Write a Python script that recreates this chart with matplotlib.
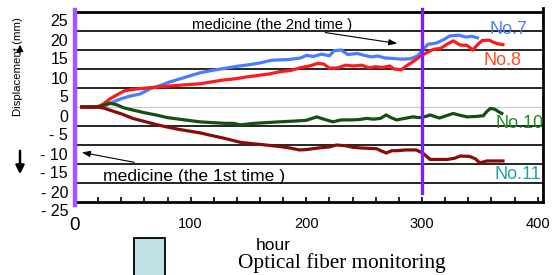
import matplotlib
matplotlib.use("Agg")
import matplotlib.pyplot as plt
from matplotlib.transforms import ScaledTranslation
from matplotlib.patches import Rectangle, FancyArrowPatch

plt.rcParams['font.family'] = ['Liberation Sans', 'DejaVu Sans']

# ---------------- data ----------------
x7 = [6, 19, 26, 32, 40, 48, 56, 65, 75, 82, 95, 108, 118, 128, 140, 150, 160, 170, 177, 185,
      195, 200, 206, 213, 220, 224, 230, 236, 244, 250, 256, 262, 268, 274, 282, 290, 296, 300,
      305, 312, 318, 324, 332, 338, 343, 348]
y7 = [0, 0, 0.3, 1.2, 2.2, 2.9, 3.4, 4.8, 5.8, 6.6, 7.8, 9.0, 9.6, 10.1, 10.7, 11.1, 11.6, 12.3, 12.4, 12.5,
      12.9, 13.6, 13.3, 13.9, 13.5, 14.8, 15.0, 13.8, 14.1, 13.6, 13.2, 13.4, 12.9, 12.8, 12.6, 12.7, 13.4, 14.8,
      16.5, 16.8, 17.6, 18.7, 18.9, 18.4, 18.6, 18.2]

x8 = [6, 19, 24, 30, 37, 43, 52, 62, 72, 85, 98, 108, 118, 128, 138, 148, 158, 168, 177, 186,
      196, 204, 210, 215, 220, 227, 234, 240, 248, 254, 260, 266, 272, 276, 282, 287, 292, 298,
      304, 310, 316, 321, 327, 333, 339, 344, 348, 352, 358, 362, 366, 370]
y8 = [0, 0, 0.7, 2.1, 3.3, 4.3, 4.7, 5.0, 5.3, 5.6, 5.9, 6.1, 6.6, 7.1, 7.4, 7.9, 8.3, 8.7, 9.3, 9.6,
      10.4, 10.9, 11.5, 11.3, 10.2, 10.3, 11.0, 10.8, 11.0, 10.3, 10.6, 10.4, 10.8, 10.0, 9.8, 10.9, 11.9, 13.2,
      14.3, 15.2, 15.4, 16.4, 17.4, 16.3, 16.2, 15.0, 16.4, 17.5, 17.6, 17.0, 16.6, 16.4]

x10 = [6, 19, 24, 30, 36, 42, 50, 60, 70, 80, 90, 100, 108, 118, 130, 137, 143, 155, 166, 177,
       190, 200, 209, 215, 223, 230, 238, 246, 252, 258, 264, 269, 274, 278, 285, 292, 298, 303,
       307, 315, 321, 327, 333, 339, 346, 353, 356, 359, 363, 366, 369]
y10 = [0, 0, 0.4, 1.0, 0.6, -0.2, -0.8, -1.5, -2.1, -2.8, -3.2, -3.6, -3.9, -4.1, -4.3, -4.3, -4.7, -4.3, -4.1, -3.9,
       -3.7, -3.5, -2.6, -3.2, -3.9, -3.4, -3.4, -3.3, -3.0, -3.2, -3.0, -2.1, -2.9, -3.4, -3.0, -2.6, -2.8, -2.5,
       -2.1, -2.9, -2.3, -1.7, -2.2, -2.6, -2.5, -2.3, -1.2, -0.4, -0.6, -1.2, -1.7]

x11 = [6, 19, 25, 32, 40, 50, 60, 70, 80, 90, 100, 108, 118, 130, 143, 155, 165, 177, 186, 194,
       200, 210, 220, 226, 234, 240, 248, 256, 261, 265, 269, 274, 278, 286, 295, 301, 304, 307,
       315, 322, 328, 333, 341, 346, 350, 356, 362, 370]
y11 = [0, 0, -0.3, -1.0, -1.8, -3.0, -3.8, -4.6, -5.3, -5.9, -6.4, -6.8, -7.5, -8.3, -9.3, -9.7, -10.0, -10.4, -10.8, -11.3,
       -11.2, -10.8, -10.5, -10.0, -10.2, -10.6, -10.8, -10.9, -11.0, -11.6, -12.1, -11.5, -11.5, -11.3, -11.3, -12.2, -13.0, -13.8,
       -13.8, -13.8, -13.5, -12.9, -13.0, -13.6, -14.7, -14.2, -14.2, -14.2]

series_names = ['No.7', 'No.8', 'No.10', 'No.11']
line_colors = ['#4a7cff', '#ff1a1a', '#145014', '#8a0b0b']
label_colors = ['#4a7cff', '#ff4a22', '#1f8f1f', '#1fa3a3']

ytick_vals = [25, 20, 15, 10, 5, 0, -5, -10, -15, -20, -25]
ytick_labels = ['25', '20', '15', '10', '5', '0', '- 5', '- 10', '- 15', '- 20', '- 25']
xtick_vals = [0, 100, 200, 300, 400]
xtick_labels = ['0', '100', '200', '300', '400']
medicine_times = [0, 300]

# ---------------- figure ----------------
fig = plt.figure(figsize=(5.56, 2.75), dpi=100)
ax = fig.add_axes([75 / 556, 73 / 275, 468 / 556, 193.8 / 275])
ax.set_xlim(0, 404.6)
ax.set_ylim(-25, 26)

# grid lines
for v in ytick_vals:
    if v == 0:
        ax.axhline(v, color='#c8c8c8', lw=0.8, zorder=1)
    elif v == 25:
        ax.axhline(v, color='black', lw=2.0, zorder=1)
    elif v == -25:
        pass
    else:
        ax.axhline(v, color='black', lw=1.2, zorder=1)

for s in ['top', 'left']:
    ax.spines[s].set_visible(False)
ax.spines['bottom'].set_linewidth(2.0)
ax.spines['right'].set_linewidth(2.0)

# data lines
for xs, ys, c in zip([x7, x8, x10, x11], [y7, y8, y10, y11], line_colors):
    ax.plot(xs, ys, color=c, lw=2.3, zorder=3, solid_joinstyle='miter')

# medicine vertical lines
ax.plot([medicine_times[0]] * 2, [-25.8, 25.5], color='#a055ff', lw=3.2, zorder=4, clip_on=False)
ax.plot([medicine_times[1]] * 2, [-22.6, 25.8], color='#7a1fff', lw=2.4, zorder=4, clip_on=False)

# series labels
label_pos = [(358.7, 20.3), (353.5, 12.3), (363.5, -4.3), (362.5, -17.8)]
for name, (lx, ly), c in zip(series_names, label_pos, label_colors):
    ax.text(lx, ly, name, color=c, fontsize=13, va='center', ha='left', zorder=5)

# annotations
ax.text(101, 21.6, 'medicine (the 2nd time )', fontsize=10.7, va='center', ha='left', zorder=5)
ax.annotate('', xy=(281, 16.6), xytext=(214, 19.7),
            arrowprops=dict(arrowstyle='-|>,head_length=0.5,head_width=0.18', color='black', lw=0.8))
ax.text(24, -18.4, 'medicine (the 1st time )', fontsize=12.6, va='center', ha='left', zorder=5)
ax.annotate('', xy=(3.5, -11.8), xytext=(53.6, -14.7),
            arrowprops=dict(arrowstyle='-|>,head_length=0.5,head_width=0.18', color='black', lw=0.8))

# ticks
ax.set_xticks(xtick_vals)
ax.set_xticklabels(xtick_labels)
ax.set_xticks(range(0, 401, 20), minor=True)
ax.tick_params(axis='x', which='both', direction='in', length=3.5, width=1.2, pad=11, labelsize=10.5)
ax.set_yticks(ytick_vals)
ax.set_yticklabels(ytick_labels)
ax.tick_params(axis='y', length=0, pad=5, labelsize=11.5)
for lab in ax.get_xticklabels():
    if lab.get_text() == '0':
        lab.set_fontsize(13.5)
off = ScaledTranslation(0, -8.5 / 100, fig.dpi_scale_trans)
for lab in ax.get_yticklabels():
    lab.set_transform(lab.get_transform() + off)

# y label and arrows
fig.text(18 / 556, 1 - 67 / 275, 'Displacement (mm)', rotation=90, fontsize=8.2,
         ha='center', va='center')
fig.patches.append(FancyArrowPatch(
    (20 / 556, 1 - 148 / 275), (20 / 556, 1 - 177 / 275), transform=fig.transFigure,
    arrowstyle='-|>,head_length=0.5,head_width=0.25', color='black', lw=1.8, mutation_scale=10))
fig.patches.append(FancyArrowPatch(
    (20 / 556, 1 - 58 / 275), (20 / 556, 1 - 42 / 275), transform=fig.transFigure,
    arrowstyle='-|>,head_length=0.4,head_width=0.2', color='black', lw=0.8, mutation_scale=10))

# bottom texts
fig.text(273 / 556, 25 / 275, 'hour', fontsize=12.5, ha='center', va='baseline')
fig.text(342 / 556, 7 / 275, 'Optical fiber monitoring', fontsize=15.3,
         family=['Liberation Serif', 'DejaVu Serif'], ha='center', va='baseline')
fig.patches.append(Rectangle((134 / 556, -0.05), 31 / 556, 0.05 + 37 / 275,
                             transform=fig.transFigure, facecolor='#bfe1e3',
                             edgecolor='black', lw=1.3))

fig.savefig('out.png', dpi=100)
